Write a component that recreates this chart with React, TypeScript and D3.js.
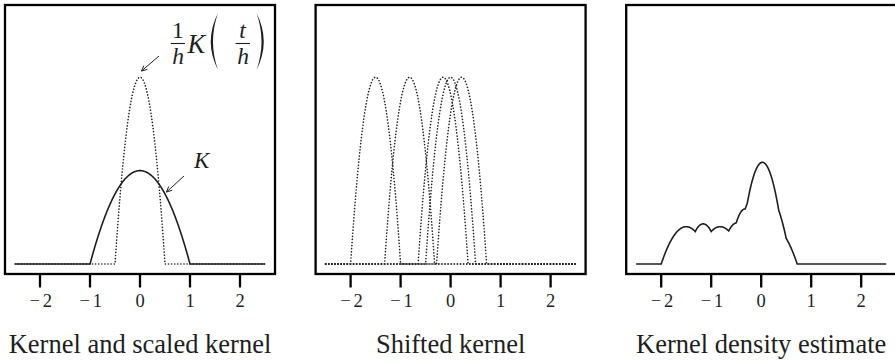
import React from "react";
import * as d3 from "d3";

// Sample points used for the shifted kernels / KDE
const samplePoints = [-1.5, -0.82, -0.15, 0.0, 0.22];
const bandwidth = 0.5;
const xTicks = [-2, -1, 0, 1, 2];
const tickLabels = ["\u22122", "\u22121", "0", "1", "2"];
const titles = ["Kernel and scaled kernel", "Shifted kernel", "Kernel density estimate"];
const panelLefts = [5, 315.6, 626.2];

const W = 895;
const H = 362;
const boxW = 270;
const boxTop = 5;
const boxBottom = 274;

// Epanechnikov kernel
const K = (t: number) => (Math.abs(t) <= 1 ? 0.75 * (1 - t * t) : 0);
const Kh = (t: number, h: number) => K(t / h) / h;

const grid = d3.range(-2.5, 2.5 + 1e-9, 0.005);

const serif = "'Liberation Serif', 'Times New Roman', serif";
const ink = "#1e1e1e";

function Panel({ left, idx }: { left: number; idx: number }) {
  const x = d3.scaleLinear().domain([-2.7, 2.7]).range([left, left + boxW]);
  const y = d3.scaleLinear().domain([-0.08, 2.08]).range([boxBottom, boxTop]);
  const line = d3
    .line<[number, number]>()
    .x((d) => x(d[0]))
    .y((d) => y(d[1]));

  const dotted = {
    fill: "none",
    stroke: "#222",
    strokeWidth: 1.6,
    strokeDasharray: "0.1 3",
    strokeLinecap: "round" as const,
  };
  const solid = { fill: "none", stroke: ink, strokeWidth: 1.6 };

  let curves: React.ReactNode = null;
  if (idx === 0) {
    const kLine = line(grid.map((t) => [t, K(t)] as [number, number]));
    const sLine = line(grid.map((t) => [t, Kh(t, bandwidth)] as [number, number]));
    curves = (
      <g>
        <path d={sLine || ""} {...dotted} />
        <path d={kLine || ""} {...solid} />
      </g>
    );
  } else if (idx === 1) {
    curves = (
      <g>
        {samplePoints.map((p, i) => (
          <path
            key={i}
            d={line(grid.map((t) => [t, Kh(t - p, bandwidth)] as [number, number])) || ""}
            {...dotted}
          />
        ))}
      </g>
    );
  } else {
    const kde = grid.map(
      (t) =>
        [t, d3.mean(samplePoints, (p) => Kh(t - p, bandwidth)) as number] as [number, number]
    );
    curves = <path d={line(kde) || ""} {...solid} />;
  }

  const cx = x(0);
  return (
    <g>
      {curves}
      <rect
        x={left}
        y={boxTop}
        width={boxW}
        height={boxBottom - boxTop}
        fill="none"
        stroke="#000"
        strokeWidth={2.3}
      />
      {xTicks.map((t, i) => (
        <g key={t}>
          <line x1={x(t)} x2={x(t)} y1={boxBottom} y2={287.5} stroke="#000" strokeWidth={2.3} />
          <text
            x={x(t) + (t < 0 ? 0.8 : 0)}
            y={306.5}
            textAnchor="middle"
            fontFamily={serif}
            fontSize={18.5}
            fill={ink}
            textLength={t < 0 ? 22.5 : undefined}
            lengthAdjust="spacing"
          >
            {tickLabels[i]}
          </text>
        </g>
      ))}
      <text
        x={cx}
        y={353}
        textAnchor="middle"
        fontFamily={serif}
        fontSize={26.5}
        fill={ink}
      >
        {titles[idx]}
      </text>
    </g>
  );
}

function Arrow({ x1, y1, x2, y2 }: { x1: number; y1: number; x2: number; y2: number }) {
  const ang = Math.atan2(y2 - y1, x2 - x1);
  const len = 6;
  const spread = 0.45;
  const a1 = ang + Math.PI - spread;
  const a2 = ang + Math.PI + spread;
  return (
    <g stroke="#222" strokeWidth={1} fill="none">
      <line x1={x1} y1={y1} x2={x2} y2={y2} />
      <path
        d={`M${x2 + len * Math.cos(a1)},${y2 + len * Math.sin(a1)} L${x2},${y2} L${
          x2 + len * Math.cos(a2)
        },${y2 + len * Math.sin(a2)}`}
      />
    </g>
  );
}

function Annotations() {
  const fs = 26.5;
  const ffs = 23.5;
  return (
    <g fontFamily={serif} fill={ink}>
      {/* 1/h K (t/h) */}
      <text x={177.8} y={37.5} fontSize={ffs} textAnchor="middle">
        1
      </text>
      <line x1={170.8} x2={185} y1={43.5} y2={43.5} stroke={ink} strokeWidth={1.1} />
      <text x={178} y={64} fontSize={ffs} textAnchor="middle" fontStyle="italic">
        h
      </text>
      <text x={187.5} y={52.5} fontSize={fs} fontStyle="italic">
        K
      </text>
      <path d="M218,13 Q203.5,41.5 218,70 Q208,41.5 218,13 Z" fill={ink} />
      <path d="M256.5,13 Q271,41.5 256.5,70 Q266.5,41.5 256.5,13 Z" fill={ink} />
      <text x={242.5} y={37.5} fontSize={ffs} textAnchor="middle" fontStyle="italic">
        t
      </text>
      <line x1={235.5} x2={250} y1={43.5} y2={43.5} stroke={ink} strokeWidth={1.1} />
      <text x={243} y={64} fontSize={ffs} textAnchor="middle" fontStyle="italic">
        h
      </text>
      <Arrow x1={159} y1={56} x2={141.5} y2={71} />
      {/* K label */}
      <text x={194} y={168} fontSize={23} fontStyle="italic">
        K
      </text>
      <Arrow x1={184} y1={176} x2={166.5} y2={192} />
    </g>
  );
}

export default function App() {
  return (
    <svg
      width={W}
      height={H}
      viewBox={`0 0 ${W} ${H}`}
      style={{ position: "absolute", left: 0, top: 0, background: "#fff" }}
    >
      <rect x={0} y={0} width={W} height={H} fill="#fff" />
      {panelLefts.map((l, i) => (
        <Panel key={i} left={l} idx={i} />
      ))}
      <Annotations />
    </svg>
  );
}
